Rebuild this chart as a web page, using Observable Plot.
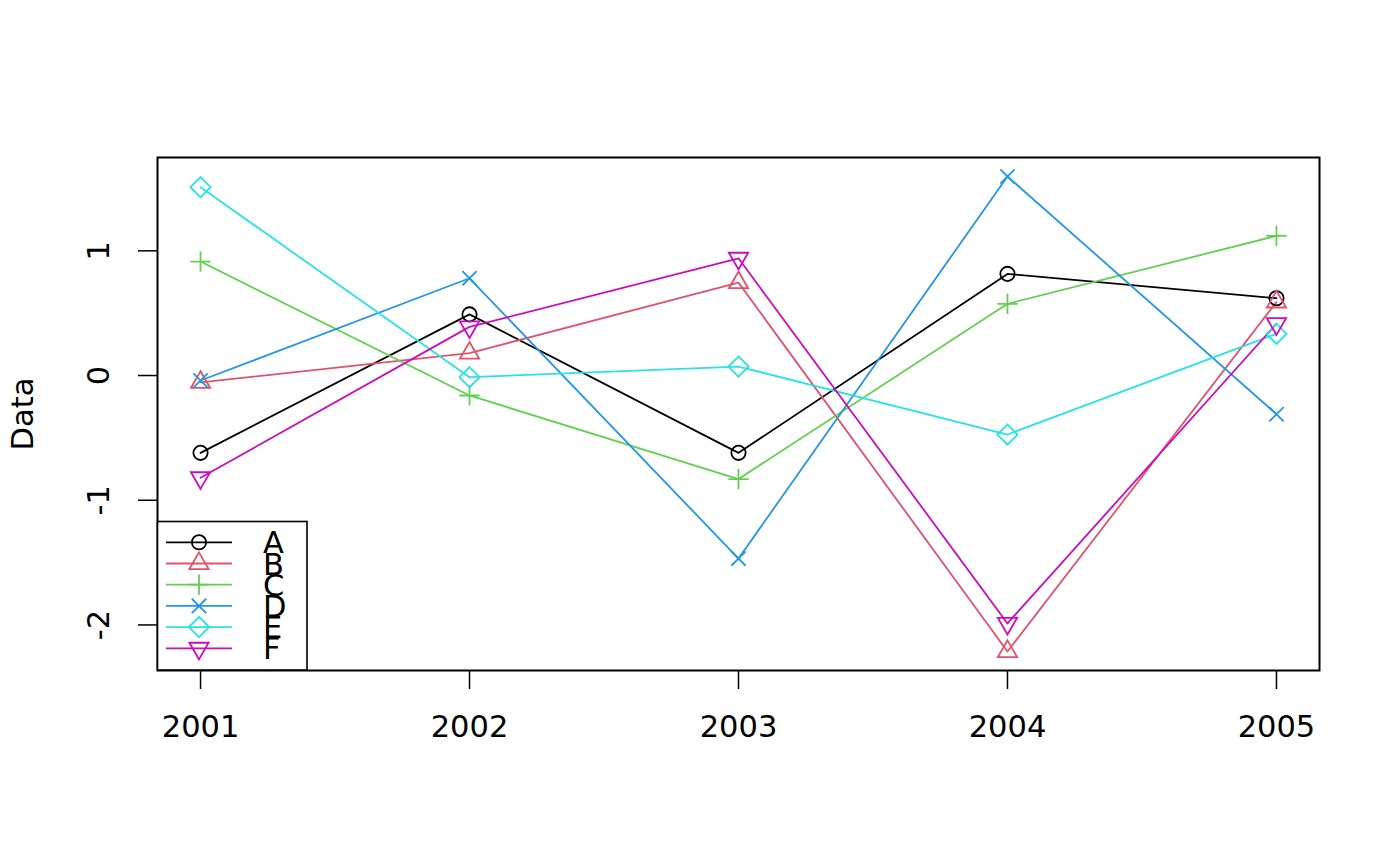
<!DOCTYPE html>
<html>
<head>
<meta charset="utf-8">
<script src="https://cdn.jsdelivr.net/npm/d3@7"></script>
<script src="https://cdn.jsdelivr.net/npm/@observablehq/plot@0.6"></script>
<style>
  html, body { margin: 0; padding: 0; background: #fff; }
  #chart { position: relative; width: 1400px; height: 866px; }
  #chart svg { position: absolute; left: 0; top: 0; }
</style>
</head>
<body>
<div id="chart"></div>
<script>
const years = [2001, 2002, 2003, 2004, 2005];
const seriesNames = ["A", "B", "C", "D", "E", "F"];
const A = [-0.62, 0.49, -0.62, 0.815, 0.62];
const B = [-0.055, 0.18, 0.745, -2.213, 0.59];
const C = [0.914, -0.16, -0.83, 0.575, 1.12];
const D = [-0.04, 0.78, -1.468, 1.596, -0.31];
const E = [1.51, -0.013, 0.072, -0.473, 0.334];
const F = [-0.82, 0.39, 0.94, -1.988, 0.415];
const colors = ["#000000", "#DF536B", "#61D04F", "#2297E6", "#28E2E5", "#CD0BBC"];
const yTicks = [-2, -1, 0, 1];
const yLabel = "Data";

const seriesValues = [A, B, C, D, E, F];

// R-like plotting symbols (pch 1..6)
const rad = (size) => Math.sqrt(size / Math.PI);
const symCircle = { draw(c, s) { const r = rad(s); c.moveTo(r, 0); c.arc(0, 0, r, 0, 2 * Math.PI); c.closePath(); } };
const symTriUp = { draw(c, s) { const r = rad(s); c.moveTo(0, -1.5551 * r); c.lineTo(1.3468 * r, 0.7776 * r); c.lineTo(-1.3468 * r, 0.7776 * r); c.closePath(); } };
const symPlus = { draw(c, s) { const r = rad(s) * Math.SQRT2; c.moveTo(-r, 0); c.lineTo(r, 0); c.moveTo(0, -r); c.lineTo(0, r); } };
const symTimes = { draw(c, s) { const r = rad(s); c.moveTo(-r, -r); c.lineTo(r, r); c.moveTo(-r, r); c.lineTo(r, -r); } };
const symDiamond = { draw(c, s) { const r = rad(s) * Math.SQRT2; c.moveTo(0, -r); c.lineTo(r, 0); c.lineTo(0, r); c.lineTo(-r, 0); c.closePath(); } };
const symTriDown = { draw(c, s) { const r = rad(s); c.moveTo(0, 1.5551 * r); c.lineTo(1.3468 * r, -0.7776 * r); c.lineTo(-1.3468 * r, -0.7776 * r); c.closePath(); } };
const symbols = [symCircle, symTriUp, symPlus, symTimes, symDiamond, symTriDown];

const table = [];
seriesNames.forEach((s, k) => years.forEach((yr, i) => table.push({ series: s, k, year: yr, value: seriesValues[k][i] })));

function padExtent(arr) {
  const [lo, hi] = d3.extent(arr);
  const e = 0.04 * (hi - lo);
  return [lo - e, hi + e];
}
const xDomain = padExtent(years);
const yDomain = padExtent(table.map(d => d.value));

const FS = 30.5;
const LW = 1.8;
const R = 7.15;
const marks = [];
seriesNames.forEach((s, k) => {
  const rows = table.filter(d => d.k === k);
  marks.push(Plot.line(rows, { x: "year", y: "value", stroke: colors[k], strokeWidth: LW }));
});
seriesNames.forEach((s, k) => {
  const rows = table.filter(d => d.k === k);
  marks.push(Plot.dot(rows, { x: "year", y: "value", symbol: symbols[k], r: R, stroke: colors[k], fill: "none", strokeWidth: LW }));
});

const chart = Plot.plot({
  width: 1400,
  height: 866,
  marginLeft: 157,
  marginRight: 81,
  marginTop: 157,
  marginBottom: 196,
  style: { fontFamily: "DejaVu Sans", fontSize: FS + "px", background: "white", color: "black" },
  x: { domain: xDomain },
  y: { domain: yDomain },
  marks: [
    Plot.axisX({ ticks: years, tickFormat: d => String(d), tickSize: 19, tickPadding: 26, fontSize: FS, label: null, strokeWidth: 1.5 }),
    Plot.axisY({ ticks: yTicks, tickFormat: () => "", tickSize: 19, label: null, strokeWidth: 1.5 }),
    Plot.text(yTicks, { y: d => d, text: d => String(d), frameAnchor: "left", textAnchor: "middle", lineAnchor: "middle", dx: -58, rotate: -90, fontSize: FS, fill: "black" }),
    Plot.text([yLabel], { text: d => d, frameAnchor: "left", textAnchor: "middle", lineAnchor: "middle", dx: -134, rotate: -90, fontSize: FS, fill: "black" }),
    ...marks,
    Plot.frame({ stroke: "black", strokeWidth: 2 })
  ]
});

const host = document.getElementById("chart");
host.appendChild(chart);

// Legend overlay (R legend at bottomleft)
const leg = d3.create("svg").attr("width", 1400).attr("height", 866)
  .style("pointer-events", "none");
const lx = 157.5, ly = 521.5, lw = 149.5, lh = 148.5;
leg.append("rect").attr("x", lx).attr("y", ly).attr("width", lw).attr("height", lh)
  .attr("fill", "white").attr("stroke", "black").attr("stroke-width", 1.6);
const row0 = 542.3, step = 21.2;
seriesNames.forEach((s, k) => {
  const yy = row0 + k * step;
  leg.append("line").attr("x1", 166).attr("x2", 232).attr("y1", yy).attr("y2", yy)
    .attr("stroke", colors[k]).attr("stroke-width", LW);
  const p = d3.path();
  symbols[k].draw(p, Math.PI * R * R);
  leg.append("path").attr("d", p.toString()).attr("transform", `translate(199,${yy})`)
    .attr("fill", "none").attr("stroke", colors[k]).attr("stroke-width", LW);
  leg.append("text").attr("x", 263).attr("y", yy + 11).text(s)
    .attr("font-family", "DejaVu Sans").attr("font-size", FS).attr("fill", "black");
});
host.appendChild(leg.node());
</script>
</body>
</html>
